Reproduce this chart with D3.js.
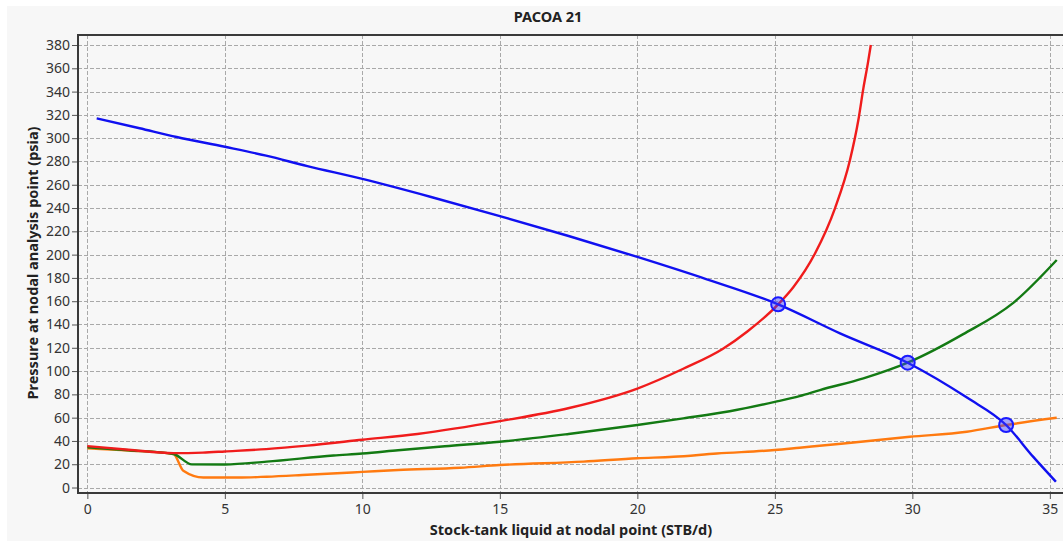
<!DOCTYPE html>
<html>
<head>
<meta charset="utf-8">
<script src="https://cdn.jsdelivr.net/npm/d3@7"></script>
<style>
  html, body { margin: 0; padding: 0; background: #ffffff; overflow: hidden; }
  svg { display: block; }
  text { font-family: "Noto Sans", "Open Sans", "DejaVu Sans", sans-serif; }
</style>
</head>
<body>
<script>
// Nodal analysis: inflow (IPR) curve and three outflow (VLP) curves
const chartTitle = "PACOA 21";
const xTitle = "Stock-tank liquid at nodal point (STB/d)";
const yTitle = "Pressure at nodal analysis point (psia)";

const xTicks = [0, 5, 10, 15, 20, 25, 30, 35];
const yTicks = [0, 20, 40, 60, 80, 100, 120, 140, 160, 180, 200, 220, 240, 260, 280, 300, 320, 340, 360, 380];

// Inflow performance (blue)
const iprLiquid   = [0.34, 1.9, 3.25, 5, 6.5, 8, 10, 12.5, 15, 17.5, 20, 22.5, 25.12, 27.37, 29.83, 32.0, 33.41, 34.39, 35.22];
const iprPressure = [317, 308.5, 301, 292.6, 285, 276, 265, 249.5, 233, 216, 198, 179, 157.3, 132.4, 107.2, 77, 53.7, 26.5, 5];

// Outflow curve 1 (red)
const vlp1Liquid   = [0, 1.5, 3.13, 4.2, 5, 6.5, 8, 10, 12, 15, 17.56, 20, 21.67, 23.1, 24, 25.12, 25.67, 26.46, 27.19, 27.73, 28.04, 28.22, 28.38, 28.49];
const vlp1Pressure = [35.6, 32.5, 29.5, 30, 31, 33, 36, 41, 46, 57, 68.5, 85, 102, 119, 134, 157.3, 172, 201, 240, 281, 316, 343, 364, 380];

// Outflow curve 2 (green)
const vlp2Liquid   = [0, 1.5, 3.13, 3.8, 5, 6.52, 8.95, 10, 11.3, 13, 15, 17.5, 20, 21.67, 23.36, 25, 25.9, 26.64, 28.22, 29.83, 31.85, 33.67, 35.25];
const vlp2Pressure = [34.5, 32, 28.8, 19.9, 19.8, 22.2, 27.5, 29.2, 32, 35.5, 39.3, 46, 53.7, 59.4, 65.5, 73.5, 78.5, 83.7, 93.7, 107.2, 131.7, 158.6, 195.4];

// Outflow curve 3 (orange)
const vlp3Liquid   = [0, 1.5, 3.13, 3.49, 4.22, 5.5, 6.52, 8, 10, 11.3, 13.55, 15, 18.04, 20, 21.31, 22.89, 25, 25.9, 27.5, 29.91, 31.98, 33.41, 35.25];
const vlp3Pressure = [33.7, 31.8, 28.8, 14.4, 8.6, 8.6, 9.3, 11, 13.4, 15, 17, 19.3, 22.2, 25.1, 26.4, 29.2, 32.2, 34.2, 37.8, 43.6, 47.9, 53.7, 59.9];

// Operating points where the inflow curve meets each outflow curve
const opLiquid   = [25.12, 29.83, 33.41];
const opPressure = [157.3, 107.2, 53.7];

const W = 1063, H = 541;
const plot = { left: 78, top: 35, right: 1072, bottom: 493 };

const svg = d3.select("body").append("svg")
  .attr("width", W).attr("height", H);

// backdrop
svg.append("rect").attr("width", W).attr("height", H).attr("fill", "#ffffff");
svg.append("rect").attr("x", 7).attr("y", 6).attr("width", W - 7).attr("height", H - 6).attr("fill", "#f7f7f7");

const x = d3.scaleLinear().domain([-0.34, 35.8]).range([plot.left, plot.left + 36.14 * 27.5]);
const y = d3.scaleLinear().domain([-4.7, 388.6]).range([plot.bottom, plot.top]);

const defs = svg.append("defs");
defs.append("clipPath").attr("id", "plotClip")
  .append("rect").attr("x", plot.left).attr("y", plot.top)
  .attr("width", plot.right - plot.left).attr("height", plot.bottom - plot.top);

// gridlines
const grid = svg.append("g").attr("stroke", "#a9a9a9").attr("stroke-width", 1).attr("stroke-dasharray", "4,2");
grid.selectAll("line.v").data(xTicks).join("line")
  .attr("x1", d => Math.round(x(d)) + 0.5).attr("x2", d => Math.round(x(d)) + 0.5)
  .attr("y1", plot.top).attr("y2", plot.bottom);
grid.selectAll("line.h").data(yTicks).join("line")
  .attr("y1", d => Math.round(y(d)) + 0.5).attr("y2", d => Math.round(y(d)) + 0.5)
  .attr("x1", plot.left).attr("x2", plot.right);

// axes
const xAxis = d3.axisBottom(x).tickValues(xTicks).tickSize(6).tickPadding(5).tickFormat(d3.format("d"));
const yAxis = d3.axisLeft(y).tickValues(yTicks).tickSize(6).tickPadding(2).tickFormat(d3.format("d"));

const gx = svg.append("g").attr("transform", `translate(0,${plot.bottom})`).call(xAxis);
const gy = svg.append("g").attr("transform", `translate(${plot.left},0)`).call(yAxis);
[gx, gy].forEach(g => {
  g.select(".domain").remove();
  g.selectAll(".tick line").attr("stroke", "#555").attr("stroke-width", 1);
  g.selectAll(".tick text").attr("fill", "#333").attr("font-size", 14);
});

// frame
svg.append("line").attr("x1", plot.left).attr("x2", plot.right).attr("y1", plot.top).attr("y2", plot.top)
  .attr("stroke", "#3a3a3a").attr("stroke-width", 2);
svg.append("line").attr("x1", plot.left).attr("x2", plot.right).attr("y1", plot.bottom).attr("y2", plot.bottom)
  .attr("stroke", "#3a3a3a").attr("stroke-width", 2);
svg.append("line").attr("x1", plot.left).attr("x2", plot.left).attr("y1", plot.top - 1).attr("y2", plot.bottom + 1)
  .attr("stroke", "#3a3a3a").attr("stroke-width", 2);

// curves
const curves = [
  { xs: vlp3Liquid, ys: vlp3Pressure, color: "#ff7a10" },
  { xs: vlp2Liquid, ys: vlp2Pressure, color: "#137a13" },
  { xs: vlp1Liquid, ys: vlp1Pressure, color: "#f01c1c" },
  { xs: iprLiquid,  ys: iprPressure,  color: "#1010f0" }
];
const line = d3.line().x(d => x(d[0])).y(d => y(d[1])).curve(d3.curveMonotoneX);
const lines = svg.append("g").attr("clip-path", "url(#plotClip)");
curves.forEach(c => {
  lines.append("path")
    .datum(d3.zip(c.xs, c.ys))
    .attr("d", line)
    .attr("fill", "none")
    .attr("stroke", c.color)
    .attr("stroke-width", 2.4)
    .attr("stroke-linejoin", "round");
});

// operating points
lines.selectAll("circle.op").data(d3.zip(opLiquid, opPressure)).join("circle")
  .attr("cx", d => x(d[0])).attr("cy", d => y(d[1])).attr("r", 7)
  .attr("fill", "rgba(60,60,255,0.45)")
  .attr("stroke", "#1a1aff").attr("stroke-width", 2);

// titles
svg.append("text").attr("x", 548).attr("y", 22).attr("text-anchor", "middle")
  .attr("font-size", 14.5).attr("font-weight", "bold").attr("fill", "#222").text(chartTitle);
svg.append("text").attr("x", 571).attr("y", 535).attr("text-anchor", "middle")
  .attr("font-size", 14.5).attr("font-weight", "bold").attr("fill", "#222").text(xTitle);
svg.append("text").attr("transform", "translate(38,263) rotate(-90)").attr("text-anchor", "middle")
  .attr("font-size", 14.5).attr("font-weight", "bold").attr("fill", "#222").text(yTitle);
</script>
</body>
</html>
